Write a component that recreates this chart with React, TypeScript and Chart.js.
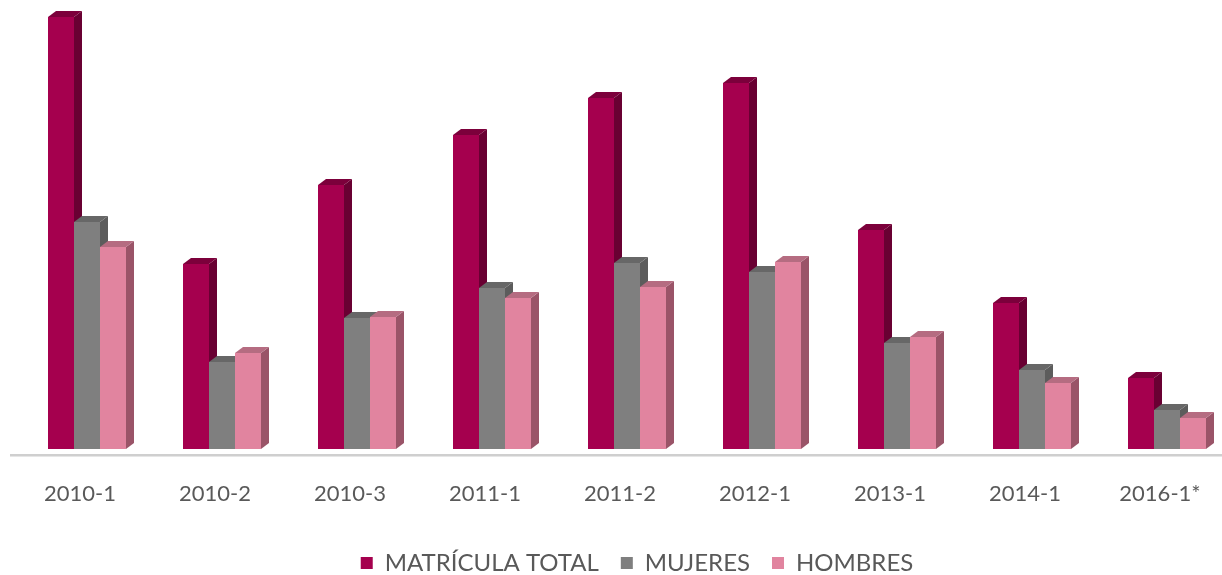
import React, { useEffect, useRef } from "react";
import { Chart, registerables } from "chart.js";

Chart.register(...registerables);

const categories = ["2010-1", "2010-2", "2010-3", "2011-1", "2011-2", "2012-1", "2013-1", "2014-1", "2016-1*"];
const matriculaTotal = [432, 185, 264, 314, 351, 366, 219, 146, 71];
const mujeres = [227, 87, 131, 161, 186, 177, 106, 79, 39];
const hombres = [202, 96, 132, 151, 162, 187, 112, 66, 31];
const seriesNames = ["MATRÍCULA TOTAL", "MUJERES", "HOMBRES"];

const frontColors = ["#A5004E", "#7F7F7F", "#E1849F"];
const sideColors = ["#690032", "#5C5C5C", "#9A5468"];
const topColors = ["#7C003B", "#676767", "#B56C81"];

const W = 1260;
const H = 600;
const PAD_BOTTOM = 15;
const BOTTOM = 449;
const DX = 8;
const DY = 6;
const FONT = "Lato, 'Open Sans', sans-serif";

const bar3d = {
  id: "bar3d",
  beforeDatasetsDraw(chart: any) {
    const ctx = chart.ctx;
    const area = chart.chartArea;
    ctx.save();
    // floor line
    ctx.fillStyle = "#cfcfcf";
    ctx.fillRect(10, area.bottom + 5, W, 2);
    ctx.fillStyle = "#e6e6e6";
    ctx.fillRect(10, area.bottom + 7, W, 1);
    chart.data.datasets.forEach((ds: any, di: number) => {
      const meta = chart.getDatasetMeta(di);
      meta.data.forEach((el: any) => {
        const { x, y, base, width } = el.getProps(["x", "y", "base", "width"], true);
        const l = x - width / 2;
        const r = x + width / 2;
        ctx.fillStyle = sideColors[di];
        ctx.beginPath();
        ctx.moveTo(r, y);
        ctx.lineTo(r + DX, y - DY);
        ctx.lineTo(r + DX, base - DY);
        ctx.lineTo(r, base);
        ctx.closePath();
        ctx.fill();
        ctx.fillStyle = topColors[di];
        ctx.beginPath();
        ctx.moveTo(l, y);
        ctx.lineTo(l + DX, y - DY);
        ctx.lineTo(r + DX, y - DY);
        ctx.lineTo(r, y);
        ctx.closePath();
        ctx.fill();
      });
    });
    ctx.restore();
  },
};

export default function App() {
  const ref = useRef<HTMLCanvasElement | null>(null);
  useEffect(() => {
    if (!ref.current) return;
    const chart = new Chart(ref.current, {
      type: "bar",
      data: {
        labels: categories,
        datasets: [
          { label: seriesNames[0], data: matriculaTotal, backgroundColor: frontColors[0] },
          { label: seriesNames[1], data: mujeres, backgroundColor: frontColors[1] },
          { label: seriesNames[2], data: hombres, backgroundColor: frontColors[2] },
        ],
      },
      options: {
        animation: false,
        responsive: true,
        maintainAspectRatio: false,
        layout: { padding: { left: 19.5, right: 5.5, top: 17, bottom: PAD_BOTTOM } },
        datasets: { bar: { categoryPercentage: 78 / 135, barPercentage: 1 } },
        scales: {
          x: {
            grid: { display: false, drawTicks: false },
            border: { display: false },
            ticks: {
              color: "#595959",
              font: { family: FONT, size: 22 },
              padding: 32,
              labelOffset: -7,
              maxRotation: 0,
              autoSkip: false,
            },
            afterFit: (s: any) => {
              const lh = s.chart.legend ? s.chart.legend.height : 0;
              s.height = H - PAD_BOTTOM - lh - BOTTOM;
            },
          },
          y: {
            position: "right",
            min: 0,
            max: 432,
            ticks: { display: false },
            grid: { display: false },
            border: { display: false },
            afterFit: (s: any) => {
              s.width = 20;
            },
          },
        },
        plugins: {
          legend: {
            position: "bottom",
            labels: {
              boxWidth: 12,
              boxHeight: 12,
              color: "#595959",
              font: { family: FONT, size: 24 },
              padding: 22,
            },
          },
          tooltip: { enabled: false },
        },
      },
      plugins: [bar3d],
    });
    return () => chart.destroy();
  }, []);
  return (
    <div style={{ position: "fixed", left: 0, top: 0, width: 1222, height: 575, overflow: "hidden", background: "#fff" }}>
      <div style={{ position: "absolute", left: 0, top: 0, width: W, height: H }}>
        <canvas ref={ref} />
      </div>
    </div>
  );
}
